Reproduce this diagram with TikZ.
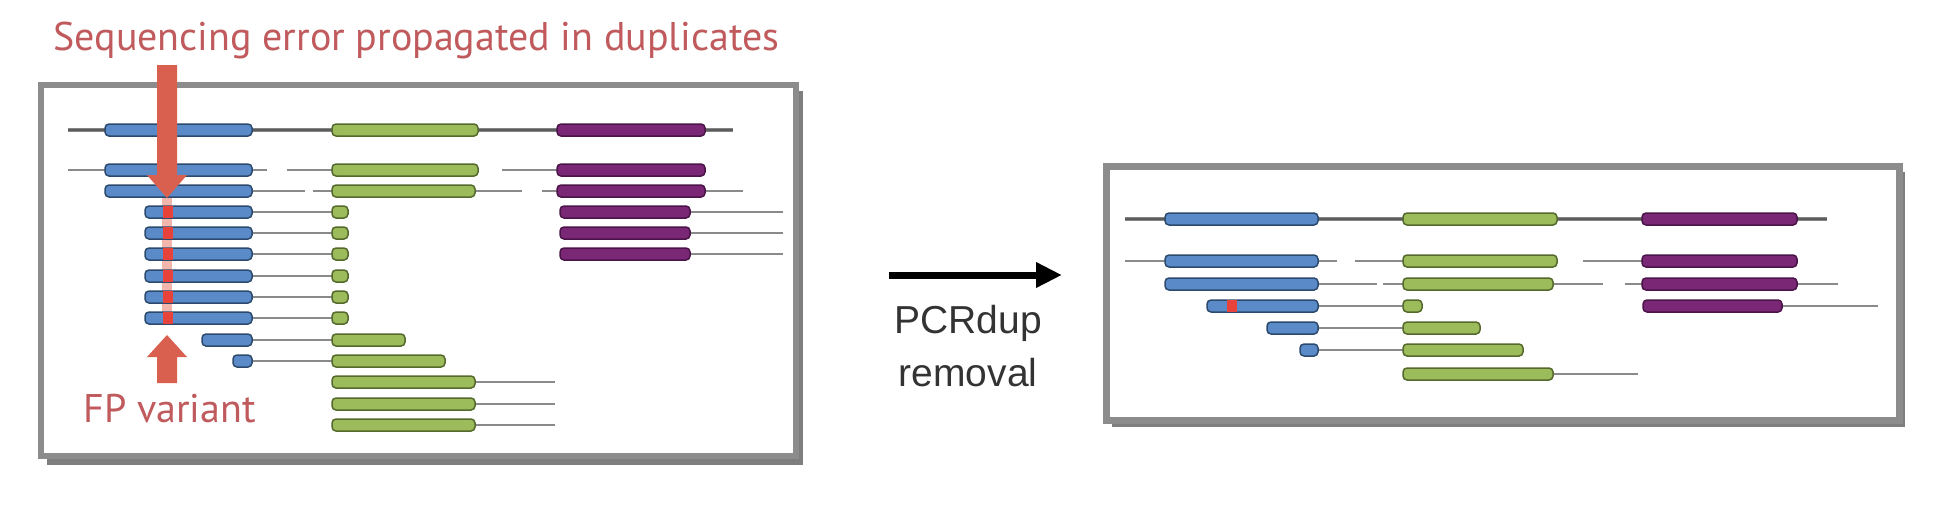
\documentclass[tikz,border=0pt]{standalone}
\usepackage{fontspec}
\setmainfont{PT Sans}
\newfontfamily\helv{Liberation Sans}
\usetikzlibrary{arrows.meta}
\definecolor{bluefill}{HTML}{5A8BC8}
\definecolor{blueline}{HTML}{2C4A6E}
\definecolor{greenfill}{HTML}{9CBC5C}
\definecolor{greenline}{HTML}{55692C}
\definecolor{purplefill}{HTML}{7A2876}
\definecolor{purpleline}{HTML}{4A1448}
\definecolor{boxgray}{HTML}{8C8C8C}
\definecolor{shadowgray}{HTML}{5E5E5E}
\definecolor{introngray}{HTML}{8A8A8A}
\definecolor{refgray}{HTML}{858585}
\definecolor{refdark}{HTML}{5C5C5C}
\definecolor{arrowred}{HTML}{D9604F}
\definecolor{markred}{HTML}{E8433A}
\definecolor{pinkband}{HTML}{F2B6AC}
\definecolor{titlered}{HTML}{C05A5C}
\definecolor{pcrtext}{HTML}{333333}
\tikzset{
  bluebar/.style={fill=bluefill,draw=blueline,line width=0.75pt,rounded corners=2pt},
  greenbar/.style={fill=greenfill,draw=greenline,line width=0.75pt,rounded corners=2pt},
  purplebar/.style={fill=purplefill,draw=purpleline,line width=0.75pt,rounded corners=2pt},
  intronline/.style={draw=introngray,line width=1pt},
  frameline/.style={draw=boxgray,line width=3pt,fill=white},
  shadowfill/.style={fill=shadowgray,opacity=0.8},
  redtext/.style={text=titlered,font=\fontsize{20}{24}\selectfont,inner sep=0pt},
  pcrlabel/.style={text=pcrtext,font=\helv\fontsize{19.5}{24}\selectfont,inner sep=0pt,anchor=base},
}
\newcommand\exonbar[4]{\draw[#4] (#1,#3-6) rectangle (#2,#3+6);}
\newcommand\intronseg[3]{\draw[intronline] (#1,#3) -- (#2,#3);}
\newcommand\refseg[3]{\draw[draw=refgray,line width=2.3pt] (#1,#3) -- (#2,#3);\draw[draw=refdark,line width=0.8pt] (#1,#3) -- (#2,#3);}
\newcommand\redmark[2]{\fill[markred] (#1-5,#2-6) rectangle (#1+5,#2+6);}
\begin{document}
\begin{tikzpicture}[x=0.5pt,y=-0.5pt]
\useasboundingbox (0,0) rectangle (1941,509);
% ---------------- left box ----------------
\fill[shadowfill] (47,91) rectangle (803,465);
\draw[frameline] (41,85) rectangle (796,456);
\node[redtext,anchor=base west] (title) at (53,50) {Sequencing error propagated in duplicates};
% pink band
\draw[draw=pinkband,line width=5pt] (167,198) -- (167,325);
% reference
\refseg{68}{733}{130}
\exonbar{105}{252}{130}{bluebar}
\exonbar{332}{478}{130}{greenbar}
\exonbar{557}{705}{130}{purplebar}
% row 1
\intronseg{68}{105}{170}\intronseg{252}{267}{170}\intronseg{287}{332}{170}\intronseg{502}{557}{170}
\exonbar{105}{252}{170}{bluebar}
\exonbar{332}{478}{170}{greenbar}
\exonbar{557}{705}{170}{purplebar}
% row 2
\intronseg{252}{305}{191}\intronseg{313}{332}{191}\intronseg{475}{522}{191}\intronseg{542}{557}{191}\intronseg{705}{743}{191}
\exonbar{105}{252}{191}{bluebar}
\exonbar{332}{475}{191}{greenbar}
\exonbar{557}{705}{191}{purplebar}
% rows 3-5 (with purple)
\foreach \yy in {212,233,254}{
  \intronseg{690}{783}{\yy}
  \exonbar{560}{690}{\yy}{purplebar}
}
% rows 3-8 duplicates
\foreach \yy in {212,233,254,276,297,318}{
  \intronseg{252}{332}{\yy}
  \exonbar{145}{252}{\yy}{bluebar}
  \exonbar{332}{348}{\yy}{greenbar}
  \redmark{168}{\yy}
}
% row 9
\intronseg{252}{332}{340}
\exonbar{202}{252}{340}{bluebar}
\exonbar{332}{405}{340}{greenbar}
% row 10
\intronseg{252}{332}{361}
\exonbar{233}{252}{361}{bluebar}
\exonbar{332}{445}{361}{greenbar}
% rows 11-13
\foreach \yy in {382,404,425}{
  \intronseg{475}{555}{\yy}
  \exonbar{332}{475}{\yy}{greenbar}
}
% red arrows
\fill[arrowred] (157,65) -- (177,65) -- (177,175) -- (187,175) -- (167,198) -- (147,175) -- (157,175) -- cycle;
\fill[arrowred] (167,335) -- (187,357) -- (177,357) -- (177,383) -- (157,383) -- (157,357) -- (147,357) -- cycle;
\node[redtext,anchor=base west] (fp) at (83,422) {FP variant};
% ---------------- middle arrow ----------------
\coordinate (arrstart) at (889,275);
\coordinate (arrend) at (1062,275);
\draw[line width=3.5pt,-{Triangle[length=13pt,width=12pt]}] (arrstart) -- (arrend);
\node[pcrlabel] (pcr1) at (968,333) {PCRdup};
\node[pcrlabel] (pcr2) at (968,386) {removal};
% ---------------- right box ----------------
\fill[shadowfill] (1112,172) rectangle (1905,427);
\draw[frameline,line width=3.5pt] (1106,166) rectangle (1899,420);
% reference
\refseg{1125}{1827}{219}
\exonbar{1165}{1318}{219}{bluebar}
\exonbar{1403}{1557}{219}{greenbar}
\exonbar{1642}{1797}{219}{purplebar}
% row 1
\intronseg{1125}{1165}{261}\intronseg{1318}{1337}{261}\intronseg{1355}{1403}{261}\intronseg{1583}{1642}{261}
\exonbar{1165}{1318}{261}{bluebar}
\exonbar{1403}{1557}{261}{greenbar}
\exonbar{1642}{1797}{261}{purplebar}
% row 2
\intronseg{1318}{1377}{284}\intronseg{1383}{1403}{284}\intronseg{1553}{1603}{284}\intronseg{1625}{1642}{284}\intronseg{1797}{1838}{284}
\exonbar{1165}{1318}{284}{bluebar}
\exonbar{1403}{1553}{284}{greenbar}
\exonbar{1642}{1797}{284}{purplebar}
% row 3
\intronseg{1318}{1403}{306}\intronseg{1782}{1878}{306}
\exonbar{1207}{1318}{306}{bluebar}
\redmark{1232}{306}
\exonbar{1403}{1422}{306}{greenbar}
\exonbar{1643}{1782}{306}{purplebar}
% row 4
\intronseg{1318}{1403}{328}
\exonbar{1267}{1318}{328}{bluebar}
\exonbar{1403}{1480}{328}{greenbar}
% row 5
\intronseg{1318}{1403}{350}
\exonbar{1300}{1318}{350}{bluebar}
\exonbar{1403}{1523}{350}{greenbar}
% row 6
\intronseg{1553}{1638}{374}
\exonbar{1403}{1553}{374}{greenbar}
\end{tikzpicture}
\end{document}
